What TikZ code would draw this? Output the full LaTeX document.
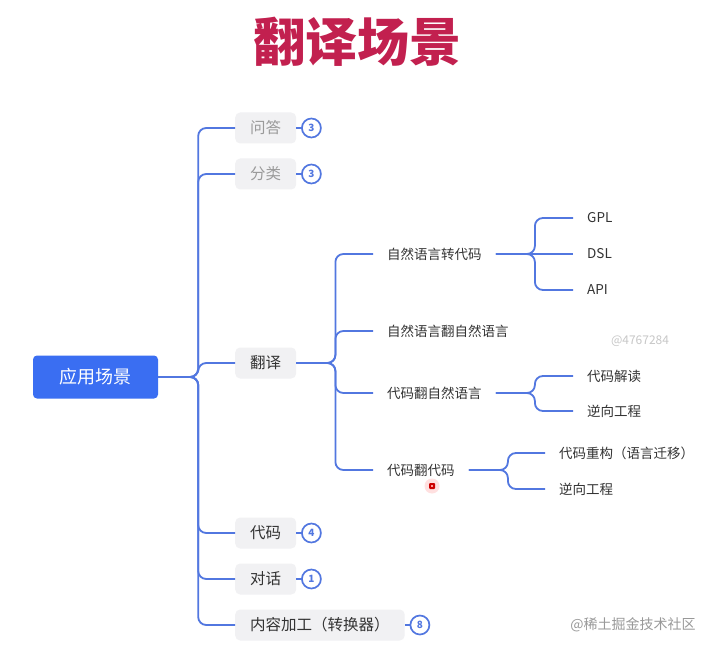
\documentclass[tikz,border=0pt]{standalone}
\usepackage{fontspec}
\setmainfont{Noto Sans CJK SC}
\definecolor{lineblue}{HTML}{5277E0}
\definecolor{rootblue}{HTML}{3A6EF2}
\definecolor{titlered}{HTML}{C2204F}
\definecolor{boxgray}{HTML}{F1F1F3}
\definecolor{fadedtext}{HTML}{9A9A9A}
\definecolor{darktext}{HTML}{333333}
\begin{document}
\begin{tikzpicture}[x=1pt,y=-1pt,
  conn/.style={draw=lineblue, line width=1.8pt, rounded corners=8pt},
  rootbox/.style={fill=rootblue, rounded corners=4pt, minimum width=125pt, minimum height=43pt, text=white, font=\fontsize{18}{21}\selectfont},
  lonebox/.style={fill=boxgray, rounded corners=5pt, minimum height=31pt, inner xsep=15pt, font=\fontsize{15.5}{18}\selectfont, text=darktext, anchor=west},
  badge/.style={circle, draw=lineblue, line width=1.7pt, fill=white, minimum size=19pt, inner sep=0pt, font=\fontsize{10}{11}\selectfont\bfseries, text=lineblue},
  ltwo/.style={inner xsep=14pt, inner ysep=3pt, font=\fontsize{13.5}{16}\selectfont, text=darktext, anchor=west},
]
\useasboundingbox (0,0) rectangle (720,652);
\fill[white] (0,0) rectangle (720,652);

\node[font=\fontsize{52}{58}\selectfont\bfseries, text=titlered] (title) at (357,42) {翻译场景};

\node[rootbox] (root) at (95.5,377) {应用场景};

\node[lonebox, text=fadedtext] (qa) at (235,128) {问答};
\node[lonebox, text=fadedtext] (cls) at (235,174) {分类};
\node[lonebox] (tr) at (235,363) {翻译};
\node[lonebox] (code) at (235,533) {代码};
\node[lonebox] (chat) at (235,579) {对话};
\node[lonebox] (proc) at (235,625) {内容加工（转换器）};

\foreach \n/\v in {qa/3, cls/3, code/4, chat/1, proc/8}{
  \node[badge] (b\n) at ([xshift=15pt]\n.east) {\v};
  \draw[draw=lineblue, line width=1.6pt] (\n.east) -- (b\n.west);
}

\foreach \n in {qa, cls, tr, code, chat, proc}{
  \draw[conn] (root.east) -- ++(40,0) |- (\n.west);
}

\node[ltwo] (c1) at (373,254) {自然语言转代码};
\node[ltwo] (c2) at (373,331) {自然语言翻自然语言};
\node[ltwo] (c3) at (373,393) {代码翻自然语言};
\node[ltwo] (c4) at (373,470) {代码翻代码};

\foreach \n in {c1, c2, c3, c4}{
  \draw[conn] (tr.east) -- ++(39,0) |- (\n.west);
}

\node[ltwo] (gpl) at (573,218) {GPL};
\node[ltwo] (dsl) at (573,254) {DSL};
\node[ltwo] (api) at (573,290) {API};
\draw[conn] (c1.east) -- ++(39,0) |- (gpl.west);
\draw[conn] (c1.east) -- (dsl.west);
\draw[conn] (c1.east) -- ++(39,0) |- (api.west);

\node[ltwo] (read) at (573,376) {代码解读};
\node[ltwo] (rev1) at (573,411) {逆向工程};
\draw[conn] (c3.east) -- ++(39,0) |- (read.west);
\draw[conn] (c3.east) -- ++(39,0) |- (rev1.west);

\node[ltwo] (refac) at (545,453) {代码重构（语言迁移）};
\node[ltwo] (rev2) at (545,489) {逆向工程};
\draw[conn] (c4.east) -- ++(39,0) |- (refac.west);
\draw[conn] (c4.east) -- ++(39,0) |- (rev2.west);

\fill[red!12] (432,486) circle (7.5);
\fill[red!80!black, rounded corners=1pt] (429,483) rectangle (435,489);
\fill[red!40] (430.8,484.8) rectangle (433.2,487.2);

\node[font=\fontsize{12}{14}\selectfont, text=black!22] (wm1) at (640,341) {@4767284};
\node[font=\fontsize{14}{16}\selectfont, text=black!40] (wm2) at (633,625) {@稀土掘金技术社区};
\end{tikzpicture}
\end{document}
